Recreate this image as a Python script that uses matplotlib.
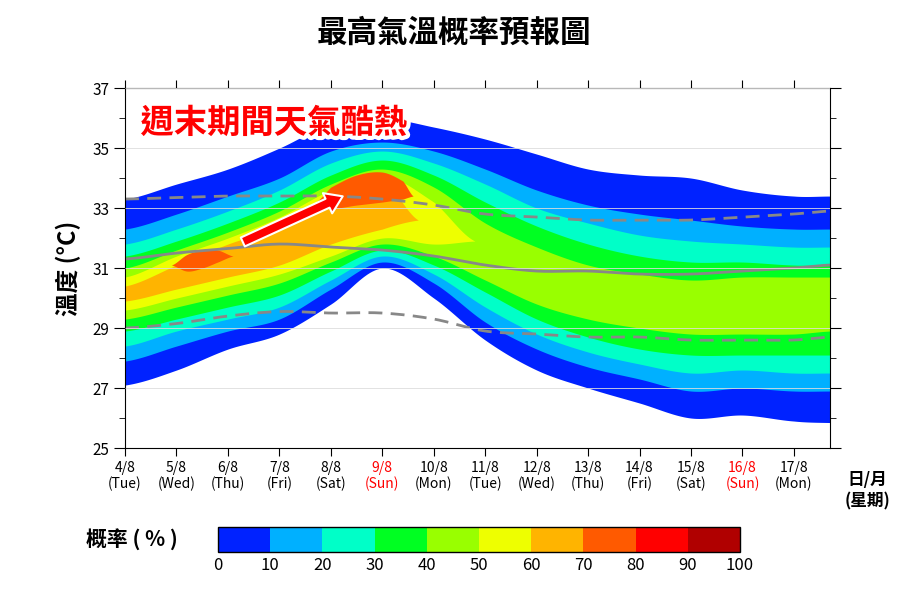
import numpy as np
import matplotlib
matplotlib.use("Agg")
import matplotlib.pyplot as plt
import matplotlib.patheffects as pe
from matplotlib.colors import ListedColormap, BoundaryNorm
from matplotlib.colorbar import ColorbarBase

plt.rcParams['font.family'] = ['Noto Sans CJK TC', 'DejaVu Sans']

dates = ["4/8","5/8","6/8","7/8","8/8","9/8","10/8","11/8","12/8","13/8","14/8","15/8","16/8","17/8"]
weekdays = ["Tue","Wed","Thu","Fri","Sat","Sun","Mon","Tue","Wed","Thu","Fri","Sat","Sun","Mon"]
xd = list(range(14)) + [13.7]

U0 = [33.3,33.8,34.3,35.0,35.8,36.0,35.7,35.3,34.8,34.3,34.1,34.0,33.6,33.4,33.4]
L0 = [27.1,27.6,28.3,28.8,29.8,31.0,30.0,28.6,27.6,27.0,26.5,26.0,26.1,25.9,25.85]
U10 = [32.3,32.8,33.4,34.0,34.9,35.2,34.9,34.3,33.6,33.1,32.8,32.6,32.4,32.3,32.3]
L10 = [27.9,28.4,28.9,29.3,30.3,31.2,30.5,29.2,28.3,27.7,27.3,26.9,27.0,26.9,26.9]
U20 = [31.8,32.3,32.9,33.6,34.5,34.9,34.5,33.8,33.0,32.5,32.1,31.9,31.8,31.7,31.7]
L20 = [28.4,28.9,29.3,29.7,30.6,31.4,30.8,29.7,28.8,28.2,27.8,27.5,27.6,27.5,27.5]
U30 = [31.4,31.9,32.5,33.2,34.1,34.6,34.1,33.2,32.4,31.8,31.4,31.2,31.2,31.1,31.1]
L30 = [28.9,29.3,29.7,30.1,30.9,31.6,31.1,30.2,29.3,28.7,28.3,28.1,28.1,28.1,28.1]
U40 = [31.0,31.6,32.2,32.9,33.8,34.3,33.7,32.5,31.7,31.1,30.8,30.6,30.7,30.7,30.7]
L40 = [29.3,29.7,30.1,30.5,31.2,31.8,31.4,30.6,29.8,29.3,29.0,28.8,28.8,28.8,28.9]
x50 = [0,1,2,3,4,5,6,6.8]
U50 = [30.7,31.4,32.0,32.7,33.6,34.1,33.2,31.9]
L50 = [29.6,30.0,30.4,30.8,31.4,32.0,31.8,31.9]
x60 = [0,1,2,3,4,5,5.7]
U60 = [30.4,31.1,31.8,32.4,33.4,33.9,32.6]
L60 = [29.9,30.3,30.7,31.1,31.8,32.3,32.6]
x70a = [0.9,1.2,1.5,1.8,2.1]
U70a = [31.1,31.45,31.6,31.6,31.4]
L70a = [31.1,30.9,31.0,31.2,31.4]
x70b = [3.7,4.0,4.5,5.0,5.4,5.6]
U70b = [33.2,33.7,34.1,34.2,33.9,33.4]
L70b = [33.2,33.0,33.1,33.2,33.3,33.4]

median = [31.3,31.5,31.65,31.8,31.7,31.6,31.4,31.1,30.9,30.9,30.8,30.8,30.9,31.0,31.1]
upper = [33.3,33.35,33.4,33.4,33.4,33.3,33.1,32.8,32.7,32.6,32.6,32.6,32.7,32.8,32.9]
lower = [29.0,29.15,29.4,29.55,29.5,29.5,29.3,28.9,28.8,28.7,28.7,28.6,28.6,28.6,28.7]

colors = ['#0022ff','#00b0ff','#00ffc8','#00ff22','#99ff00','#eeff00','#ffb400','#ff5a00','#ff0000','#b00000']

def smooth(x, y, n=20):
    x = np.asarray(x, float); y = np.asarray(y, float)
    xs, ys = [], []
    for i in range(len(x)-1):
        p0 = y[i-1] if i > 0 else y[i]
        p3 = y[i+2] if i+2 < len(y) else y[i+1]
        p1, p2 = y[i], y[i+1]
        t = np.linspace(0, 1, n, endpoint=False)
        yy = 0.5*((2*p1) + (-p0+p2)*t + (2*p0-5*p1+4*p2-p3)*t**2 + (-p0+3*p1-3*p2+p3)*t**3)
        xs.append(x[i] + t*(x[i+1]-x[i])); ys.append(yy)
    xs.append([x[-1]]); ys.append([y[-1]])
    return np.concatenate(xs), np.concatenate(ys)

fig = plt.figure(figsize=(9.08, 5.95), dpi=100)
ax = fig.add_axes([0.1377, 0.247, 0.7763, 0.605])

bands = [(xd,U0,L0,0),(xd,U10,L10,1),(xd,U20,L20,2),(xd,U30,L30,3),(xd,U40,L40,4),
         (x50,U50,L50,5),(x60,U60,L60,6),(x70a,U70a,L70a,7),(x70b,U70b,L70b,7)]
for x, u, l, c in bands:
    xs, us = smooth(x, u); _, ls = smooth(x, l)
    ax.fill_between(xs, ls, us, color=colors[c], lw=0)

xs, ys = smooth(xd, median)
ax.plot(xs, ys, color='#888888', lw=2)
for y in (upper, lower):
    xs, ys = smooth(xd, y)
    ax.plot(xs, ys, color='#888888', lw=2, ls=(0, (5, 3)))

ax.annotate('', xy=(4.28, 33.43), xytext=(2.24, 31.83),
            arrowprops=dict(arrowstyle='simple,head_width=1.6,head_length=1.2,tail_width=0.7',
                            fc='red', ec='white', lw=1.5))
ax.text(0.3, 35.5, '週末期間天氣酷熱', color='red', fontsize=24, fontweight='bold',
        path_effects=[pe.withStroke(linewidth=6, foreground='white')])

ax.set_xlim(0, 13.7)
ax.set_ylim(25, 37)
ax.set_yticks(range(25, 38, 2))
ax.set_yticks(range(25, 38), minor=True)
ax.set_xticks(range(14))
ax.set_xticklabels([f"{d}\n({w})" for d, w in zip(dates, weekdays)], fontsize=10, linespacing=1.1)
for lab, w in zip(ax.get_xticklabels(), weekdays):
    if w == 'Sun':
        lab.set_color('red')
ax.tick_params(axis='both', which='both', direction='out', top=True, right=True)
ax.tick_params(axis='y', which='major', length=8, labelsize=11)
ax.tick_params(axis='y', which='minor', length=4)
ax.tick_params(axis='x', which='major', length=6)
ax.grid(axis='y', color='#dddddd', lw=0.6)
ax.set_axisbelow(False)
ax.set_ylabel('溫度 (°C)', fontsize=17, fontweight='bold', labelpad=8)
fig.text(0.5, 0.945, '最高氣溫概率預報圖', ha='center', va='center', fontsize=22, fontweight='bold')
fig.text(0.955, 0.175, '日/月\n(星期)', ha='center', va='center', fontsize=12, fontweight='bold')

cax = fig.add_axes([0.240, 0.072, 0.575, 0.042])
cmap = ListedColormap(colors)
norm = BoundaryNorm(list(range(0, 101, 10)), cmap.N)
cb = ColorbarBase(cax, cmap=cmap, norm=norm, orientation='horizontal', ticks=range(0, 101, 10))
cb.ax.tick_params(labelsize=12, length=0)
cb.outline.set_linewidth(1)
fig.text(0.145, 0.093, '概率 ( % )', ha='center', va='center', fontsize=15, fontweight='bold')

fig.savefig('out.png', dpi=100)
